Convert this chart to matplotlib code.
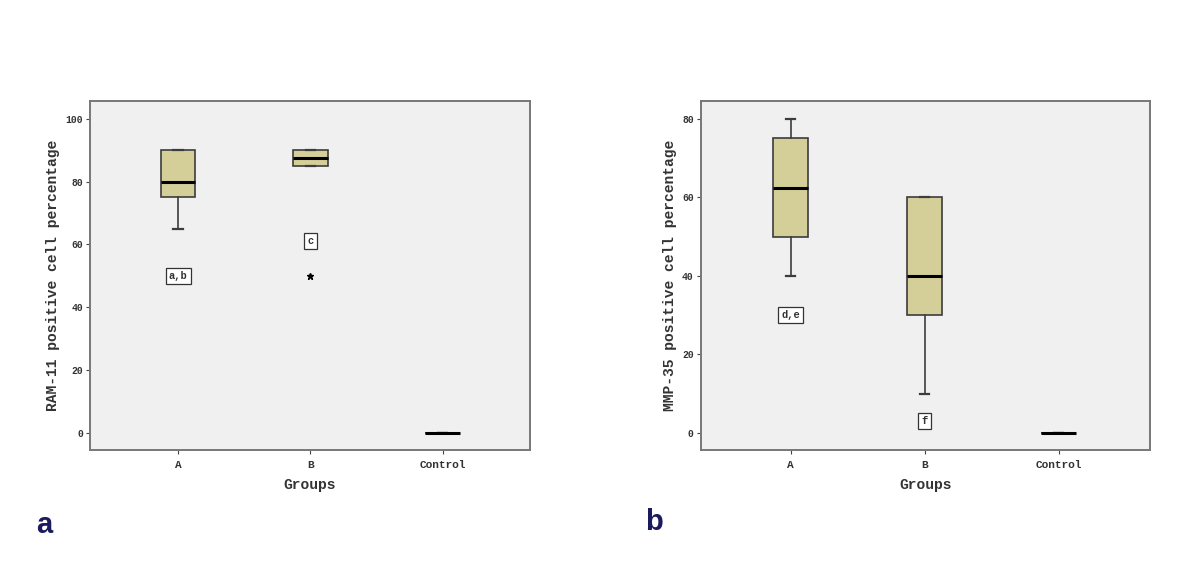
import matplotlib
matplotlib.use("Agg")
import matplotlib.pyplot as plt

groups = ["A", "B", "Control"]

# panel a: RAM-11
ram_q1 = [75, 85, 0]
ram_med = [80, 87.5, 0]
ram_q3 = [90, 90, 0]
ram_lo = [65, 85, 0]
ram_hi = [90, 90, 0]
ram_fliers = [[], [50], []]
ram_notes = [("a,b", 1, 50), ("c", 2, 61)]

# panel b: MMP-35
mmp_q1 = [50, 30, 0]
mmp_med = [62.5, 40, 0]
mmp_q3 = [75, 60, 0]
mmp_lo = [40, 10, 0]
mmp_hi = [80, 60, 0]
mmp_fliers = [[], [], []]
mmp_notes = [("d,e", 1, 30), ("f", 2, 3)]

font = "Liberation Mono"
fill = "#d4ce98"
edge = "#3c3c3c"


def panel(ax, q1, med, q3, lo, hi, fl, notes, ylabel, yticks, ylim, xlim):
    stats = []
    for i in range(len(groups)):
        stats.append({"q1": q1[i], "med": med[i], "q3": q3[i],
                      "whislo": lo[i], "whishi": hi[i], "fliers": fl[i]})
    ax.bxp(stats, positions=[1, 2, 3], widths=0.26, patch_artist=True,
           boxprops=dict(facecolor=fill, edgecolor=edge, linewidth=1.2),
           medianprops=dict(color="black", linewidth=2.2),
           whiskerprops=dict(color=edge, linewidth=1.2),
           capprops=dict(color=edge, linewidth=1.6),
           capwidths=0.07,
           flierprops=dict(marker="*", markersize=5, markerfacecolor="black",
                           markeredgecolor="black"))
    for txt, x, y in notes:
        ax.text(x, y, txt, ha="center", va="center", fontsize=7.5,
                family=font, fontweight="bold", color="#333333",
                bbox=dict(boxstyle="square,pad=0.3", facecolor="white",
                          edgecolor="#333333", linewidth=0.9))
    ax.set_facecolor("#f0f0f0")
    ax.set_xlim(*xlim)
    ax.set_ylim(*ylim)
    ax.set_xticks([1, 2, 3])
    ax.set_xticklabels(groups, family=font, fontsize=8, fontweight="bold", color="#333333")
    ax.set_yticks(yticks)
    ax.set_yticklabels([str(t) for t in yticks], family=font, fontsize=7,
                       fontweight="bold", color="#333333")
    ax.tick_params(length=3, color="#444444", pad=2)
    ax.tick_params(axis="x", pad=4)
    ax.set_xlabel("Groups", family=font, fontsize=10.5, fontweight="bold",
                  color="#333333", labelpad=6)
    ax.set_ylabel(ylabel, family=font, fontsize=10.5, fontweight="bold", color="#333333")
    for s in ax.spines.values():
        s.set_color("#777777")
        s.set_linewidth(1.4)


fig = plt.figure(figsize=(12, 5.76), dpi=100)
ax1 = fig.add_axes([0.075, 0.219, 0.3667, 0.606])
ax2 = fig.add_axes([0.584, 0.219, 0.374, 0.606])

panel(ax1, ram_q1, ram_med, ram_q3, ram_lo, ram_hi, ram_fliers, ram_notes,
      "RAM-11 positive cell percentage", [0, 20, 40, 60, 80, 100],
      (-5.4, 105.7), (0.335, 3.66))
panel(ax2, mmp_q1, mmp_med, mmp_q3, mmp_lo, mmp_hi, mmp_fliers, mmp_notes,
      "MMP-35 positive cell percentage", [0, 20, 40, 60, 80],
      (-4.35, 84.6), (0.33, 3.68))

fig.text(0.03, 0.075, "a", fontsize=21, fontweight="bold", color="#1a1a5e", family="Liberation Sans")
fig.text(0.538, 0.08, "b", fontsize=21, fontweight="bold", color="#1a1a5e", family="Liberation Sans")

fig.savefig("out.png", dpi=100)
